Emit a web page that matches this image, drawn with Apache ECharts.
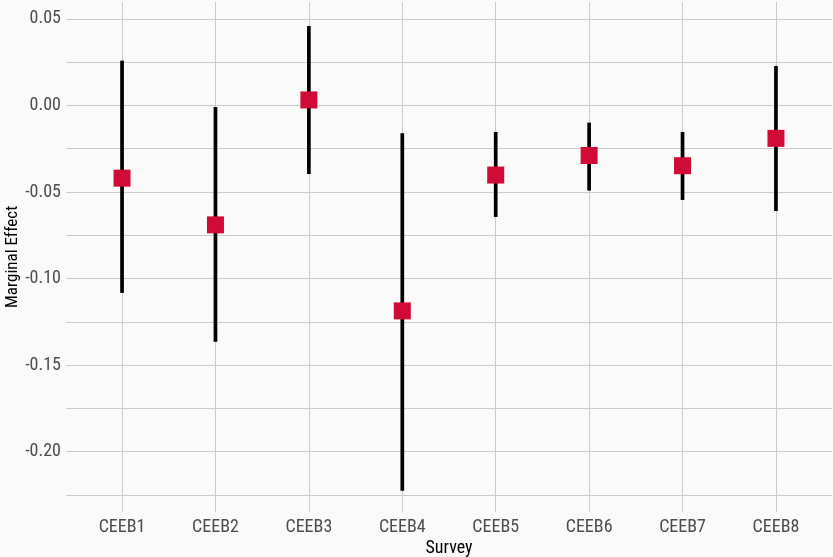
<!DOCTYPE html>
<html><head><meta charset="utf-8">
<script src="https://cdn.jsdelivr.net/npm/echarts@6/dist/echarts.min.js"></script>
<style>html,body{margin:0;padding:0;background:#fafafa}#c{width:833px;height:557px}</style>
</head><body><div id="c"></div>
<script>
const categories = ['CEEB1','CEEB2','CEEB3','CEEB4','CEEB5','CEEB6','CEEB7','CEEB8'];
const estimates = [-0.042, -0.069, 0.0032, -0.1187, -0.0402, -0.0289, -0.0348, -0.019];
const lower = [-0.1083, -0.1366, -0.0396, -0.2227, -0.0644, -0.0492, -0.0546, -0.061];
const upper = [0.0259, -0.0009, 0.0459, -0.0161, -0.0153, -0.0099, -0.0153, 0.0228];
const yTickValues = [-0.20, -0.15, -0.10, -0.05, 0.00, 0.05];
const yTickLabels = ['-0.20', '-0.15', '-0.10', '-0.05', '0.00', '0.05'];

const FONT = "'Roboto Condensed', 'Liberation Sans Narrow', 'Arial Narrow', 'Liberation Sans', sans-serif";
const T = 'rgba(0,0,0,0)';
const G = '#cbcbcb';

const chart = echarts.init(document.getElementById('c'), null, {renderer: 'canvas'});
chart.setOption({
  backgroundColor: '#fafafa',
  animation: false,
  grid: {left: 66, right: 1, top: 1.65, height: 510.5, containLabel: false, outerBoundsMode: 'none'},
  xAxis: {
    type: 'value', min: 0.4, max: 8.6, interval: 0.2,
    name: 'Survey', nameLocation: 'middle', nameGap: 27, nameMoveOverlap: false,
    nameTextStyle: {color: '#000', fontSize: 18, fontFamily: FONT},
    axisLine: {show: false}, axisTick: {show: false},
    axisLabel: {
      margin: 6, color: '#4d4d4d', fontSize: 18, fontFamily: FONT,
      formatter: function (v) {
        const r = Math.round(v);
        return (Math.abs(v - r) < 1e-6 && r >= 1 && r <= categories.length) ? categories[r - 1] : '';
      }
    },
    splitLine: {show: true, lineStyle: {color: [T, T, T, G, T], width: 1}}
  },
  yAxis: {
    type: 'value', min: -0.235, max: 0.06, interval: 0.005,
    name: 'Marginal Effect', nameLocation: 'middle', nameGap: 45, nameMoveOverlap: false,
    nameTextStyle: {color: '#000', fontSize: 17, fontFamily: FONT},
    axisLine: {show: false}, axisTick: {show: false},
    axisLabel: {
      margin: 5, color: '#4d4d4d', fontSize: 18, fontFamily: FONT,
      formatter: function (v) {
        for (let i = 0; i < yTickValues.length; i++) {
          if (Math.abs(v - yTickValues[i]) < 1e-6) return yTickLabels[i];
        }
        return '';
      }
    },
    splitLine: {show: true, lineStyle: {color: [T, T, G, T, T], width: 1}}
  },
  series: [
    {
      type: 'custom',
      data: categories.map((c, i) => [i + 1, lower[i], upper[i]]),
      encode: {x: 0, y: [1, 2]},
      renderItem: function (params, api) {
        const p1 = api.coord([api.value(0), api.value(1)]);
        const p2 = api.coord([api.value(0), api.value(2)]);
        return {type: 'line', shape: {x1: p1[0], y1: p1[1], x2: p2[0], y2: p2[1]},
                style: {stroke: '#000', lineWidth: 3.7}};
      },
      z: 2
    },
    {
      type: 'scatter',
      data: categories.map((c, i) => [i + 1, estimates[i]]),
      symbol: 'rect', symbolSize: 17,
      itemStyle: {color: '#d00b36', opacity: 1},
      z: 3
    }
  ]
});
</script></body></html>
